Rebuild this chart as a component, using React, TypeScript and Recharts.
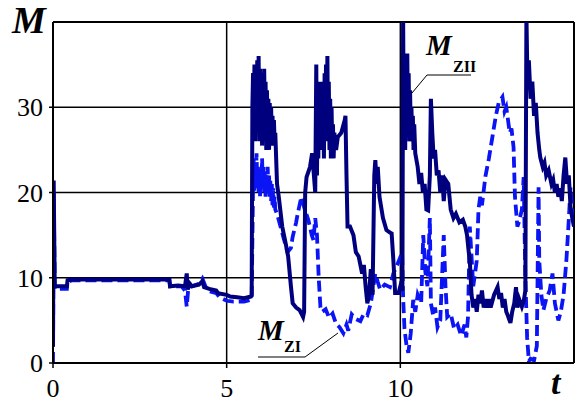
import React from "react";
import { LineChart, Line, XAxis, YAxis, ReferenceLine } from "recharts";

// time grid (t) and values for M_ZII (solid navy)
const ZII_T = [
  0, 0.02, 0.05, 0.1, 0.4, 0.42, 0.55, 1.0, 2.0, 3.35, 3.37, 3.6, 3.8, 3.85, 3.88, 3.92, 4.0, 4.2, 4.3, 4.35,
  4.5, 4.7, 4.75, 5.0, 5.1, 5.3, 5.5, 5.7, 5.72,
  5.74, 5.76, 5.78, 5.8, 5.82, 5.84, 5.86, 5.88, 5.9, 5.92, 5.94, 5.96, 5.98, 6.0, 6.02, 6.04, 6.06,
  6.08, 6.1, 6.12, 6.14, 6.16, 6.18, 6.2, 6.22, 6.24, 6.26, 6.28, 6.3, 6.32, 6.34, 6.36, 6.38, 6.4,
  6.45, 6.5, 6.6, 6.7, 6.77, 6.85, 6.9, 7.0, 7.1, 7.2, 7.23, 7.26, 7.3, 7.4, 7.46, 7.5, 7.55,
  7.58, 7.6, 7.62, 7.64, 7.66, 7.68, 7.7, 7.72, 7.74, 7.76, 7.78, 7.8, 7.82, 7.84, 7.86, 7.88, 7.9,
  7.92, 7.94, 7.96, 7.98, 8.0, 8.02, 8.04, 8.06, 8.08, 8.1,
  8.15, 8.2, 8.3, 8.4, 8.42, 8.45, 8.48, 8.55, 8.65, 8.72, 8.8, 8.9, 8.95, 9.0, 9.05, 9.1, 9.15, 9.2, 9.25, 9.28,
  9.32, 9.35, 9.4, 9.5, 9.6, 9.7, 9.75, 9.8, 9.85, 9.95, 10.0, 10.06, 10.08,
  10.1, 10.12, 10.14, 10.16, 10.18, 10.2, 10.22, 10.24, 10.26, 10.28, 10.3, 10.32, 10.34, 10.36, 10.38, 10.4,
  10.43, 10.5, 10.55, 10.6, 10.65, 10.7, 10.75, 10.8, 10.85, 10.88, 10.92, 10.96, 11.0, 11.05, 11.1, 11.15,
  11.2, 11.25, 11.3, 11.38, 11.45, 11.53, 11.6, 11.7, 11.8, 11.87, 11.92, 11.97, 12.0, 12.05, 12.1, 12.15,
  12.2, 12.25, 12.3, 12.35, 12.4, 12.45, 12.5, 12.55, 12.6, 12.7, 12.8, 12.85, 12.9, 12.95, 13.0, 13.05,
  13.1, 13.17, 13.22, 13.28, 13.33, 13.37, 13.42, 13.5, 13.55, 13.6, 13.63, 13.66, 13.7, 13.75, 13.8, 13.85,
  13.9, 13.95, 14.0, 14.03, 14.1, 14.15, 14.2, 14.27, 14.35, 14.4, 14.45, 14.5, 14.55, 14.6, 14.65, 14.7,
  14.75, 14.8, 14.85, 14.9, 14.95, 15.0,
];
const ZII_M = [
  2, 21.4, 9.0, 9.0, 9.0, 9.7, 9.8, 9.8, 9.8, 9.8, 9.0, 9.1, 9.0, 10.5, 8.6, 9.4, 9.0, 9.2, 9.6, 8.9,
  8.7, 8.5, 8.2, 8.0, 7.8, 7.7, 7.6, 7.8, 8,
  30, 34, 27, 35, 26, 34, 28, 35.5, 27, 36, 26, 34.5, 27, 33, 25.5, 34, 26,
  34.5, 27, 33, 25, 32, 26, 31, 25, 30.5, 26, 30, 25.5, 29, 26, 28.5, 26, 27,
  21, 19.5, 16, 14, 12.5, 9, 7, 6.5, 6.2, 5.4, 6, 20, 21.8, 23, 24.6, 22.6, 20,
  35, 22, 32, 24, 33, 25, 32, 26, 33, 25, 31, 24, 34, 26, 35, 27, 36,
  26, 33, 25, 31, 24, 30, 25, 28, 24, 27,
  25, 26.5, 27, 28.5, 29, 22, 16, 16, 15, 13, 12.5, 10.5, 11.5, 9, 7, 8, 11, 8, 22, 23.8,
  21, 23, 19.5, 17, 15.6, 15.3, 15.2, 12, 8.2, 8.2, 9, 8.5, 41,
  26, 34, 25, 35, 27, 36.3, 27, 34, 26, 32, 27, 30, 26, 29, 25, 28,
  24.6, 23, 21, 22.3, 20, 21, 18, 17.9, 22, 31, 27, 24, 25, 22, 22.6, 20,
  22, 19, 21.5, 21, 18, 17, 17.5, 16.5, 16.8, 16, 15, 13, 12, 8, 6.5, 7.5,
  6, 8, 7, 8.5, 6.5, 7.5, 6.5, 7.5, 6.5, 8, 8.9, 7.5, 8.2, 6.5, 7.5, 6,
  5.5, 4.7, 6, 7, 8.9, 6.5, 7.5, 6.6, 7.2, 8.5, 41, 33, 35.5, 31, 33, 29,
  30.5, 27, 25, 24.1, 23, 23.5, 22, 22.6, 21, 21.5, 20, 21, 19.5, 20.5, 19, 22,
  24.1, 21, 22, 18.3, 17, 16,
];

// time grid and values for M_ZI (dashed blue)
const ZI_T = [
  0, 0.02, 0.05, 0.4, 0.42, 0.55, 3.35, 3.37, 3.7, 3.8, 3.85, 3.9, 4.0, 4.2, 4.3, 4.4, 4.5, 4.7, 4.8, 5.0,
  5.2, 5.5, 5.7, 5.72,
  5.76, 5.78, 5.8, 5.82, 5.84, 5.86, 5.88, 5.9, 5.92, 5.94, 5.96, 5.98, 6.0, 6.02, 6.04, 6.06, 6.08,
  6.1, 6.12, 6.14, 6.16, 6.18, 6.2, 6.22, 6.24, 6.26, 6.28, 6.3, 6.32, 6.34, 6.36, 6.38, 6.4,
  6.45, 6.55, 6.65, 6.75, 6.85, 6.9, 7.0, 7.05, 7.15, 7.25, 7.35, 7.45, 7.5, 7.55, 7.6, 7.65, 7.7, 7.75,
  7.85, 7.95, 8.05, 8.15, 8.25, 8.36, 8.45, 8.5, 8.6, 8.7, 8.85, 8.95, 9.05, 9.15, 9.28, 9.35, 9.42, 9.55,
  9.7, 9.8, 9.9, 10.0, 10.05, 10.08, 10.12, 10.18, 10.23, 10.3, 10.37, 10.43, 10.5, 10.6, 10.66, 10.72,
  10.78, 10.85, 10.88, 10.95, 11.0, 11.07, 11.15, 11.25, 11.3, 11.35, 11.45, 11.55, 11.65, 11.75, 11.85,
  11.9, 11.95, 12.0, 12.1, 12.2, 12.25, 12.3, 12.35, 12.45, 12.55, 12.65, 12.75, 12.83, 12.94, 13.0, 13.05,
  13.1, 13.15, 13.2, 13.26, 13.3, 13.37, 13.42, 13.5, 13.55, 13.6, 13.65, 13.7, 13.75, 13.85, 13.93, 13.98,
  14.0, 14.06, 14.12, 14.2, 14.3, 14.38, 14.45, 14.55, 14.62, 14.7, 14.78, 14.85, 14.9, 14.95, 15.0,
];
const ZI_M = [
  0, 20, 8.7, 8.7, 9.5, 9.7, 9.7, 9.0, 9.0, 8.5, 6.6, 9.0, 9.0, 9.3, 9.9, 8.9, 8.4, 8.2, 7.7, 7.3,
  7.2, 7.2, 7.4, 7.4,
  21, 24, 20, 23.5, 20.5, 24.6, 21, 23, 20, 22.5, 19.5, 23, 20.5, 24, 21, 23, 20,
  22.5, 19.5, 22, 20, 23, 20.5, 22, 19.5, 21.5, 19, 21, 18.5, 20.5, 18, 19.5, 18,
  17.5, 16, 14.5, 13, 13.5, 14.8, 16.5, 17.6, 19.5, 18, 16.8, 15, 14.4, 17, 15, 10, 6.5, 6,
  6.3, 5.3, 5.8, 4.6, 4.2, 3.5, 4.5, 3.8, 5.7, 5.2, 4.9, 5.8, 5.6, 7, 10.5, 9.5, 8.6, 9.2,
  8.9, 10.5, 11.4, 12.4, 13, 7.7, 4, 2, 1.2, 3.5, 7.4, 6, 8, 7, 15, 10.7,
  9, 17, 7, 5.5, 6.5, 4.2, 5, 15, 9, 5.4, 5.8, 4, 4.5, 3.2, 4.5,
  3, 5.5, 16, 9, 12, 18, 19.5, 18.5, 21.9, 24, 26.5, 29, 30.5, 31.2, 29.5, 30,
  28.5, 27, 27.5, 25.3, 19.5, 16, 16.6, 18, 21.8, 10, 3, 0.2, 0.5, 0.3, 2, 20.6,
  12, 8, 6.2, 7.5, 8.5, 10.5, 7, 5, 6, 8, 12, 16.8, 20.6, 18, 16.8,
];

const X_TICKS = [0, 5, 10];
const Y_TICKS = [0, 10, 20, 30];
const GRID_X = [5, 10];
const GRID_Y = [10, 20, 30];

const zii = ZII_T.map((t, i) => ({ t, m: ZII_M[i] }));
const zi = ZI_T.map((t, i) => ({ t, m: ZI_M[i] }));

const serif = "Liberation Serif";

const XTick = ({ x, y, payload }: any) => (
  <text x={x} y={y} dy="0.71em" textAnchor="middle" style={{ fontFamily: serif, fontSize: 26 }} fill="#000">
    {payload.value}
  </text>
);

const YTick = ({ x, y, payload }: any) => (
  <text x={x} y={y} dy="0.355em" textAnchor="end" style={{ fontFamily: serif, fontSize: 26 }} fill="#000">
    {payload.value}
  </text>
);

export default function App() {
  return (
    <div style={{ position: "absolute", left: 0, top: 0, width: 576, height: 403, background: "#fff" }}>
      <LineChart width={576} height={403} margin={{ top: 22, right: 2, bottom: 0, left: 0 }}>
        {GRID_X.map((x) => (
          <ReferenceLine key={"gx" + x} x={x} stroke="#000" strokeWidth={1.5} />
        ))}
        {GRID_Y.map((y) => (
          <ReferenceLine key={"gy" + y} y={y} stroke="#000" strokeWidth={1.5} />
        ))}
        <ReferenceLine x={15} stroke="#000" strokeWidth={2} />
        <ReferenceLine y={40} stroke="#000" strokeWidth={2} />
        <XAxis
          type="number"
          dataKey="t"
          domain={[0, 15]}
          ticks={X_TICKS}
          allowDataOverflow
          height={40}
          axisLine={{ stroke: "#000", strokeWidth: 2 }}
          tickLine={{ stroke: "#000", strokeWidth: 1.5 }}
          tickSize={5}
          tickMargin={11}
          tick={<XTick />}
        />
        <YAxis
          type="number"
          dataKey="m"
          domain={[0, 40]}
          ticks={Y_TICKS}
          allowDataOverflow
          width={53}
          axisLine={{ stroke: "#000", strokeWidth: 2 }}
          tickLine={{ stroke: "#000", strokeWidth: 1.5 }}
          tickSize={4}
          tickMargin={6}
          tick={<YTick />}
        />
        <Line
          data={zi}
          dataKey="m"
          type="linear"
          stroke="#0a14f5"
          strokeWidth={3.8}
          strokeDasharray="11 5"
          dot={false}
          isAnimationActive={false}
        />
        <Line
          data={zii}
          dataKey="m"
          type="linear"
          stroke="#00007f"
          strokeWidth={4}
          dot={false}
          isAnimationActive={false}
        />
      </LineChart>
      {/* axis names and curve annotations */}
      <svg
        width={576}
        height={403}
        style={{ position: "absolute", left: 0, top: 0, pointerEvents: "none", fontFamily: serif }}
      >
        <text x={12} y={33} fontSize={38} fontWeight="bold" fontStyle="italic">M</text>
        <text x={551} y={394} fontSize={34} fontWeight="bold" fontStyle="italic">t</text>

        <text x={426} y={55} fontSize={29} fontWeight="bold" fontStyle="italic">M</text>
        <text x={453} y={72} fontSize={16} fontWeight="bold">ZII</text>
        <polyline points="412,93 427,75 471,75" fill="none" stroke="#000" strokeWidth={1} />

        <text x={258} y={340} fontSize={29} fontWeight="bold" fontStyle="italic">M</text>
        <text x={284} y={352} fontSize={16} fontWeight="bold">ZI</text>
        <polyline points="258,357 305,357 338,333" fill="none" stroke="#000" strokeWidth={1} />
      </svg>
    </div>
  );
}
